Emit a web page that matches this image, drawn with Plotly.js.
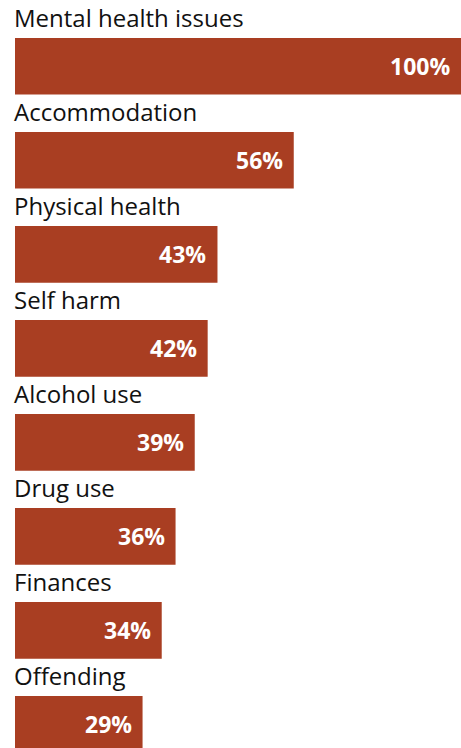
<!DOCTYPE html>
<html>
<head>
<meta charset="utf-8">
<script src="https://cdn.plot.ly/plotly-3.0.1.min.js"></script>
<style>
  html, body { margin: 0; padding: 0; background: #ffffff; }
  #chart { width: 461px; height: 748px; }
</style>
</head>
<body>
<div id="chart"></div>
<script>
// Categories, top to bottom
const categories = [
  "Mental health issues",
  "Accommodation",
  "Physical health",
  "Self harm",
  "Alcohol use",
  "Drug use",
  "Finances",
  "Offending"
];
// Bar lengths as drawn in the picture (percent of the longest bar)
const barLengths = [100, 62.5, 45.4, 43.2, 40.3, 36.0, 32.9, 28.6];
// Value labels printed on the bars
const valueLabels = ["100%", "56%", "43%", "42%", "39%", "36%", "34%", "29%"];

const barColor = "#A93E22";
const labelFont = "Open Sans, sans-serif";
const barWidth = 0.603;

const idx = categories.map((c, i) => i);

const trace = {
  type: "bar",
  orientation: "h",
  x: barLengths,
  y: categories,
  width: barWidth,
  marker: { color: barColor, line: { width: 0 } },
  hoverinfo: "skip"
};

const annotations = [];
categories.forEach((c, i) => {
  annotations.push({
    xref: "paper", yref: "y",
    x: 0, y: i - barWidth / 2,
    xanchor: "left", yanchor: "bottom",
    xshift: -3, yshift: 2,
    text: c,
    showarrow: false,
    font: { family: labelFont, size: 24, color: "#111111" }
  });
  annotations.push({
    xref: "x", yref: "y",
    x: barLengths[i], y: i,
    xanchor: "right", yanchor: "middle",
    xshift: -9,
    text: "<b>" + valueLabels[i] + "</b>",
    showarrow: false,
    font: { family: labelFont, size: 23, color: "#ffffff" }
  });
});

const layout = {
  width: 461, height: 748,
  margin: { l: 15, r: 0, t: 0, b: 0, pad: 0 },
  paper_bgcolor: "#ffffff",
  plot_bgcolor: "#ffffff",
  showlegend: false,
  xaxis: {
    range: [0, 100],
    visible: false,
    fixedrange: true
  },
  yaxis: {
    type: "category",
    categoryorder: "array",
    categoryarray: categories,
    range: [7.252, -0.705],
    visible: false,
    fixedrange: true
  },
  annotations: annotations
};

Plotly.newPlot("chart", [trace], layout, { staticPlot: true, displayModeBar: false });
</script>
</body>
</html>
